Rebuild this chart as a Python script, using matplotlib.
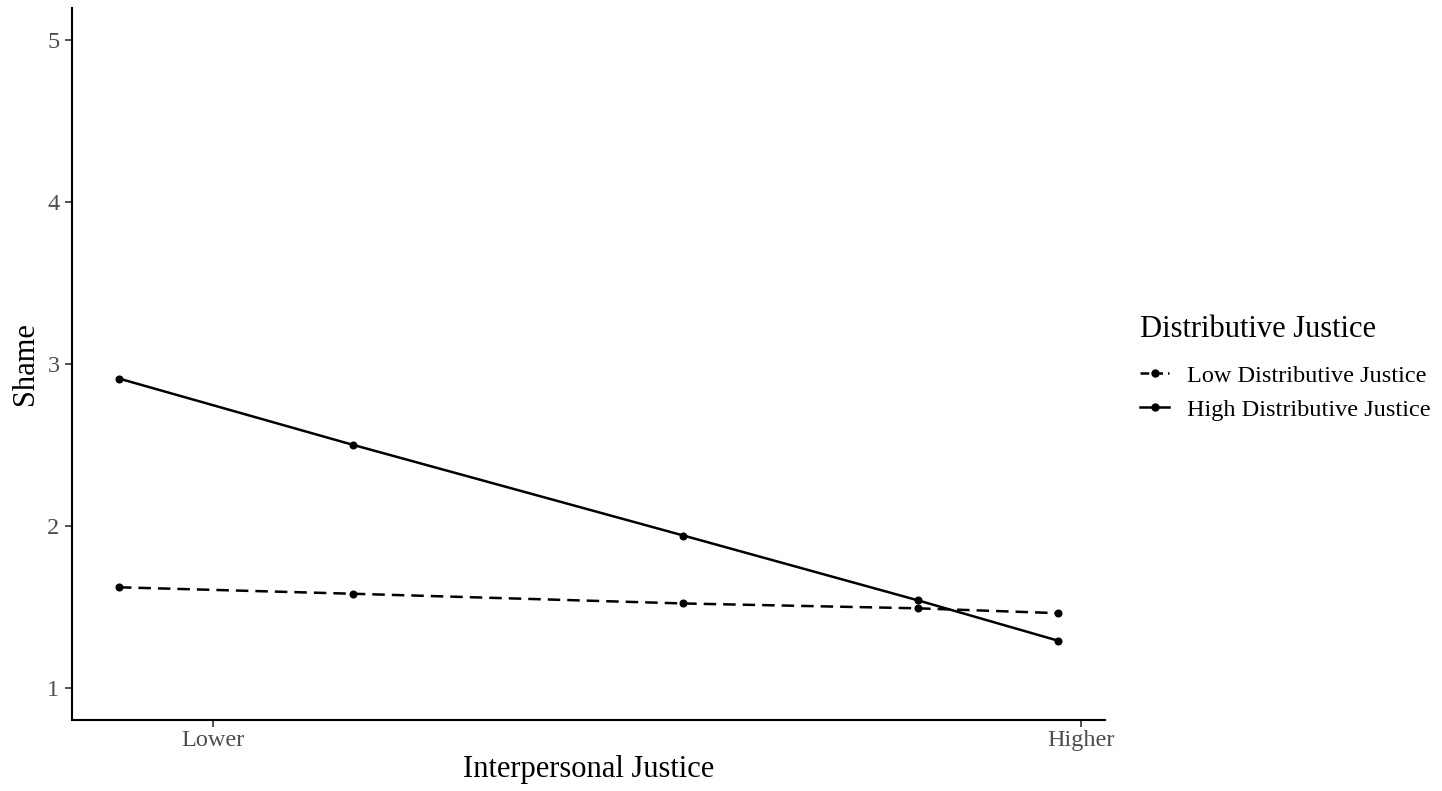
import matplotlib
matplotlib.use("Agg")
import matplotlib.pyplot as plt
from matplotlib.lines import Line2D

plt.rcParams['font.family'] = ['Liberation Serif', 'DejaVu Serif']

# data
interp_x = [0.0, 1.0, 2.41, 3.41, 4.01]
low_dj   = [1.62, 1.58, 1.52, 1.49, 1.46]
high_dj  = [2.91, 2.50, 1.94, 1.54, 1.29]
xtick_pos    = [0.40, 4.11]
xtick_labels = ["Lower", "Higher"]
yticks = [1, 2, 3, 4, 5]

dash = (0, (5.0, 2.8))
key_dash = (0, (3.5, 2.0))

fig = plt.figure(figsize=(14.42, 7.91), dpi=100)
ax = fig.add_axes([0.0499, 0.0898, 0.7164, 0.9001])

ax.plot(interp_x, low_dj, color='black', lw=1.8, ls=dash,
        marker='o', ms=4.8, label='Low Distributive Justice')
ax.plot(interp_x, high_dj, color='black', lw=1.8, ls='-',
        marker='o', ms=4.8, label='High Distributive Justice')

span = interp_x[-1] - interp_x[0]
ax.set_xlim(interp_x[0] - 0.05 * span, interp_x[-1] + 0.05 * span)
ax.set_ylim(0.8, 5.2)
ax.set_xticks(xtick_pos)
ax.set_xticklabels(xtick_labels)
ax.set_yticks(yticks)

for s in ['top', 'right']:
    ax.spines[s].set_visible(False)
for s in ['left', 'bottom']:
    ax.spines[s].set_linewidth(1.5)
ax.tick_params(axis='both', labelsize=17.5, labelcolor='#4d4d4d',
               color='#333333', length=5, width=1.2, pad=4)
ax.tick_params(axis='x', pad=2)

ax.set_xlabel("Interpersonal Justice", fontsize=22, labelpad=3)
ax.set_ylabel("Shame", fontsize=22, labelpad=5)

handles = [
    Line2D([], [], color='black', lw=1.8, ls=key_dash, marker='o', ms=5),
    Line2D([], [], color='black', lw=1.8, ls='-', marker='o', ms=5),
]
leg = fig.legend(handles, ['Low Distributive Justice', 'High Distributive Justice'],
                 title='Distributive Justice', loc='upper left',
                 bbox_to_anchor=(0.7906, 0.602), borderaxespad=0, borderpad=0,
                 frameon=False, fontsize=17.5, title_fontsize=22,
                 handlelength=1.2, handletextpad=0.74, labelspacing=0.5)
leg._legend_box.align = 'left'
leg._legend_box.sep = 15

fig.savefig("out.png", dpi=100)
